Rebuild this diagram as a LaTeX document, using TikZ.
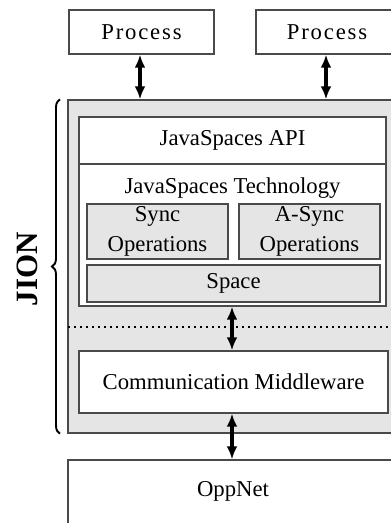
\documentclass[tikz,border=0pt]{standalone}
\usepackage{fontspec}
\setmainfont{Liberation Serif}
\usetikzlibrary{arrows.meta,decorations.pathreplacing}
\definecolor{edge}{HTML}{4A4A4A}
\definecolor{panel}{HTML}{E5E5E5}
\tikzset{
  box/.style={draw=edge, line width=1.4pt, rectangle, inner sep=0pt, font=\fontsize{22.7}{28}\selectfont, align=center},
  graybox/.style={box, fill=panel},
  whitebox/.style={box, fill=white},
  lbl/.style={inner sep=0pt, font=\fontsize{22.7}{28}\selectfont, align=center},
  biarrow/.style={line width=3.2pt, {Latex[length=13pt,width=11pt]}-{Latex[length=13pt,width=11pt]}},
}
\begin{document}
\begin{tikzpicture}[x=1pt,y=-1pt]
\useasboundingbox (0,0) rectangle (391,523);
\clip (0,0) rectangle (391,523);
% processes
\node[whitebox, minimum width=145pt, minimum height=44pt] (proc1) at (141.5,32) {\addfontfeature{LetterSpace=8}Process};
\node[whitebox, minimum width=142pt, minimum height=44pt] (proc2) at (327,32) {\addfontfeature{LetterSpace=8}Process};
% JION panel
\node[graybox, minimum width=330pt, minimum height=333pt] (jion) at (233,266.5) {};
\node[whitebox, minimum width=307pt, minimum height=189pt] (inner) at (232.5,211.5) {};
\node[whitebox, minimum width=307pt, minimum height=47pt] (api) at (232.5,140.5) {JavaSpaces API};
\node[lbl] (tech) at (232.5,188) {JavaSpaces Technology};
\node[graybox, minimum width=141pt, minimum height=55pt] (sync) at (157.5,231.5) {Sync\\[2pt]Operations};
\node[graybox, minimum width=141pt, minimum height=55pt] (async) at (309.5,231.5) {A-Sync\\[2pt]Operations};
\node[graybox, minimum width=293pt, minimum height=37pt] (space) at (233.5,283.5) {Space};
\coordinate (dl) at (68,327);
\coordinate (dr) at (398,327);
\draw[black, line width=1.6pt, dash pattern=on 1.6pt off 4.4pt] (dl) -- (dr);
\node[whitebox, minimum width=309pt, minimum height=62pt] (comm) at (233.5,382) {Communication Middleware};
% OppNet
\node[whitebox, minimum width=330pt, minimum height=80pt] (opp) at (233,500) {};
\node[lbl] (opptext) at (233,491) {OppNet};
% arrows
\draw[biarrow] (proc1.south -| 140,0) -- (jion.north -| 140,0);
\draw[biarrow] (proc2.south -| 326,0) -- (jion.north -| 326,0);
\draw[biarrow] (inner.south -| 232,0) -- (comm.north -| 232,0);
\draw[biarrow] (comm.south -| 232,0) -- (opp.north -| 232,0);
% brace and label
\draw[line width=1.9pt, decorate, decoration={brace, amplitude=8pt}] (jion.south west -| 60,0) -- (jion.north west -| 60,0);
\node[rotate=90, inner sep=0pt, font=\fontsize{31}{34}\selectfont\bfseries] (jionlbl) at (27,269) {JION};
\end{tikzpicture}
\end{document}
